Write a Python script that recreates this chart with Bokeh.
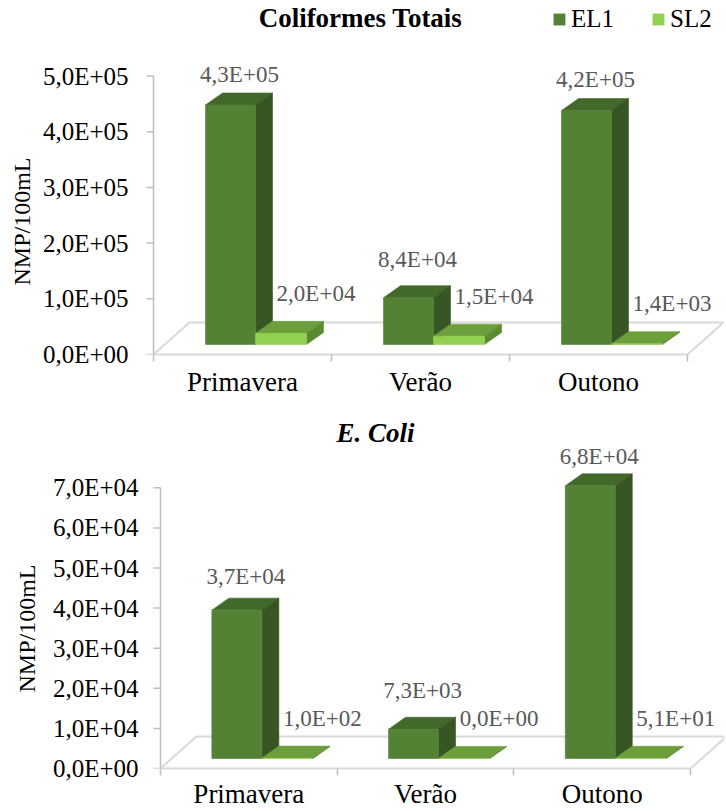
from bokeh.plotting import figure
from bokeh.models import ColumnDataSource, FixedTicker, Label, Legend, LegendItem, Range1d, Title
from bokeh.layouts import column
from bokeh.embed import file_html
from bokeh.resources import INLINE

# ---------------- data ----------------
categories = ["Primavera", "Verão", "Outono"]
series_names = ["EL1", "SL2"]

ct_title = "Coliformes Totais"
ct_el1 = [4.3e5, 8.4e4, 4.2e5]
ct_sl2 = [2.0e4, 1.5e4, 1.4e3]
ct_ticks = [0, 1e5, 2e5, 3e5, 4e5, 5e5]

ec_title = "E. Coli"
ec_el1 = [3.7e4, 7.3e3, 6.8e4]
ec_sl2 = [1.0e2, 0.0, 5.1e1]
ec_ticks = [0, 1e4, 2e4, 3e4, 4e4, 5e4, 6e4, 7e4]

y_label = "NMP/100mL"

# ---------------- style ----------------
FONT = "Liberation Serif"
COLORS = {
    "EL1": {"front": "#548235", "top": "#42682a", "side": "#375623"},
    "SL2": {"front": "#92d050", "top": "#6c9e3b", "side": "#5c8a30"},
}
BAR_PX = {"EL1": (-37, 13), "SL2": (13, 64)}   # front face, px from category centre
LABEL_DX = {"EL1": 9, "SL2": 35}
BASE_PX = 10
DEPTH_DX, DEPTH_DY = 17, 12
FLOOR_DX, FLOOR_DY = 36, 32
FRAME_LEFT = 140
FRAME_W = 726 - FRAME_LEFT - 2
AXIS_GREY = "#bfbfbf"


def sci(v):
    return f"{v:.1E}".replace(".", ",")


def make_panel(title, title_style, title_xy, el1, sl2, ticks, g, legend=False):
    fw, fh = FRAME_W, g["fh"]
    xpx, ypx = g["xpx"], g["ypx"]
    x0r = -0.5 - (g["axis_x"] - FRAME_LEFT) / xpx
    x1r = x0r + fw / xpx
    y1r = fh / ypx

    p = figure(frame_width=fw, frame_height=fh, output_backend="svg",
               toolbar_location=None,
               x_range=Range1d(x0r, x1r), y_range=Range1d(0, y1r),
               min_border_left=FRAME_LEFT, min_border_right=2,
               min_border_top=g["top"], min_border_bottom=g["bottom"])
    p.outline_line_color = None
    p.grid.visible = False
    p.background_fill_color = "white"
    p.border_fill_color = "white"

    def dx(px):
        return px / xpx

    def dy(px):
        return px / ypx

    n = len(categories)
    # floor outline (front edge is the x-axis line)
    p.line(x=[-0.5, -0.5 + dx(FLOOR_DX), n - 0.5 + dx(FLOOR_DX), n - 0.5],
           y=[0, dy(FLOOR_DY), dy(FLOOR_DY), 0],
           line_color="#d9d9d9", line_width=2)

    # vertical axis line and tick marks
    p.segment(x0=[-0.5], y0=[ticks[0]], x1=[-0.5], y1=[ticks[-1]],
              line_color=AXIS_GREY, line_width=1.5)
    p.segment(x0=[-0.5 - dx(7)] * len(ticks), y0=ticks,
              x1=[-0.5] * len(ticks), y1=ticks,
              line_color=AXIS_GREY, line_width=1.5)

    fronts = {}
    lx, ly, lt = [], [], []
    for name, vals in (("EL1", el1), ("SL2", sl2)):
        a, b = BAR_PX[name]
        top_xs, top_ys, side_xs, side_ys = [], [], [], []
        L, R, B, T = [], [], [], []
        for i, v in enumerate(vals):
            xa, xb = i + dx(a), i + dx(b)
            yb = dy(BASE_PX)
            yt = yb + v
            ddx, ddy = dx(DEPTH_DX), dy(DEPTH_DY)
            top_xs.append([xa, xb, xb + ddx, xa + ddx])
            top_ys.append([yt, yt, yt + ddy, yt + ddy])
            side_xs.append([xb, xb + ddx, xb + ddx, xb])
            side_ys.append([yb, yb + ddy, yt + ddy, yt])
            L.append(xa); R.append(xb); B.append(yb); T.append(yt)
            h_px = v * ypx
            off = 40 - 0.04 * h_px
            lx.append((xa + xb) / 2 + dx(LABEL_DX[name]))
            ly.append(yt + dy(off))
            lt.append(sci(v))
        c = COLORS[name]
        p.patches(xs=top_xs, ys=top_ys, fill_color=c["top"], line_color=c["top"], line_width=0.6)
        p.patches(xs=side_xs, ys=side_ys, fill_color=c["side"], line_color=c["side"], line_width=0.6)
        fronts[name] = p.quad(left=L, right=R, bottom=B, top=T,
                              fill_color=c["front"], line_color=c["front"], line_width=0.6)

    src = ColumnDataSource(dict(x=lx, y=ly, t=lt))
    p.text(x="x", y="y", text="t", source=src, text_align="center",
           text_baseline="middle", text_font={"value": FONT},
           text_font_size="23px", text_color="#595959")

    # chart title
    tx = x0r + (title_xy[0] - FRAME_LEFT) / xpx
    ty = (fh - (title_xy[1] - g["top"])) / ypx
    p.add_layout(Label(x=tx, y=ty, text=title, text_font=FONT, text_font_size="27px",
                       text_font_style=title_style, text_align="center",
                       text_baseline="middle", text_color="#000000"))

    # vertical axis title, placed from the bottom of the frame
    p.add_layout(Title(text=y_label, align="left", offset=g["ylab_off"],
                       standoff=g["ylab_stand"], text_font=FONT,
                       text_font_size="24px", text_font_style="normal",
                       text_color="#000000"), "left")

    # x axis
    xa_ = p.xaxis[0]
    xa_.ticker = FixedTicker(ticks=list(range(n)),
                             minor_ticks=[k - 0.5 for k in range(n + 1)])
    xa_.major_label_overrides = {k: categories[k] for k in range(n)}
    xa_.bounds = (-0.5, n - 0.5)
    xa_.axis_line_color = "#d9d9d9"
    xa_.axis_line_width = 2
    xa_.major_tick_out = 0
    xa_.major_tick_in = 0
    xa_.minor_tick_out = 7
    xa_.minor_tick_in = 0
    xa_.minor_tick_line_color = AXIS_GREY
    xa_.minor_tick_line_width = 1.5
    xa_.major_label_standoff = g["xstand"]
    xa_.major_label_text_font = FONT
    xa_.major_label_text_font_size = "27px"
    xa_.major_label_text_color = "#000000"

    # y axis (line and tick marks drawn above as glyphs)
    ya = p.yaxis[0]
    ya.ticker = FixedTicker(ticks=ticks)
    ya.major_label_overrides = {t: sci(t) for t in ticks}
    ya.axis_line_color = None
    ya.major_tick_line_color = None
    ya.major_tick_out = 0
    ya.major_tick_in = 0
    ya.minor_tick_out = 0
    ya.minor_tick_in = 0
    ya.major_label_standoff = g["ystand"]
    ya.major_label_text_font = FONT
    ya.major_label_text_font_size = "25px"
    ya.major_label_text_color = "#000000"

    if legend:
        lg = Legend(items=[LegendItem(label=nm, renderers=[fronts[nm]]) for nm in series_names],
                    location=(552 - FRAME_LEFT, fh - 31), orientation="horizontal",
                    glyph_width=14, glyph_height=14, label_standoff=5, spacing=37,
                    padding=0, margin=0, border_line_color=None,
                    background_fill_alpha=0, label_text_font=FONT,
                    label_text_font_size="25px", label_text_color="#000000")
        p.add_layout(lg)
    return p


g_top = dict(fh=352, top=2, bottom=46, xpx=178.0, ypx=55.7 / 1e5,
             axis_x=153, xstand=5, ystand=12, ylab_off=69, ylab_stand=10)
g_bot = dict(fh=358, top=10, bottom=43, xpx=176.7, ypx=40.1 / 1e4,
             axis_x=160, xstand=3, ystand=2, ylab_off=76, ylab_stand=19)

p1 = make_panel(ct_title, "bold", (360, 17), ct_el1, ct_sl2, ct_ticks, g_top, legend=True)
p2 = make_panel(ec_title, "bold italic", (375, 32), ec_el1, ec_sl2, ec_ticks, g_bot)

layout = column(p1, p2, spacing=0)
open("out.html", "w").write(file_html(layout, INLINE))
